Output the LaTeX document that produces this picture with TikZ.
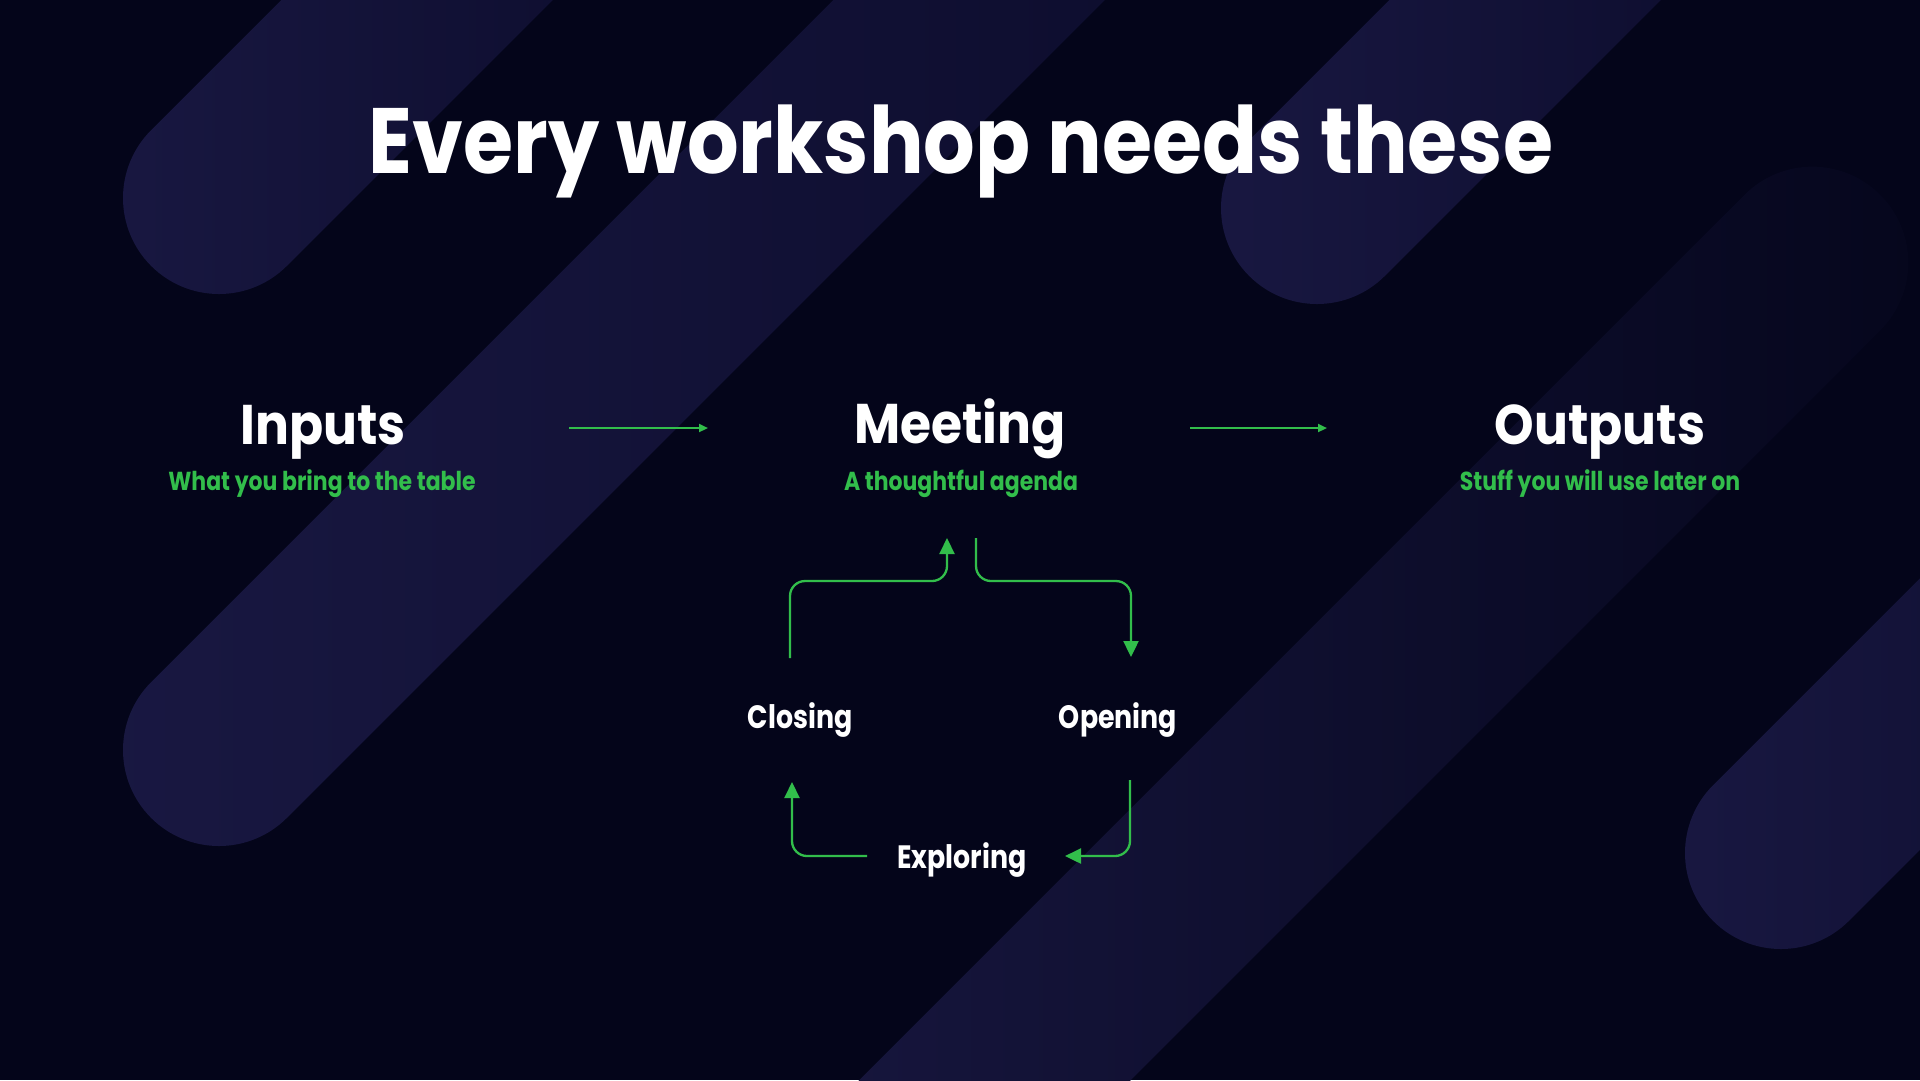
\documentclass[tikz,border=0pt]{standalone}
\usepackage{fontspec}
\usepackage{graphicx}
\setmainfont{Poppins}
\usetikzlibrary{arrows.meta}
\definecolor{bgcol}{RGB}{4,5,26}
\definecolor{stripelight}{RGB}{25,24,66}
\definecolor{stripedark}{RGB}{12,12,44}
\definecolor{stripefaint}{RGB}{5,6,28}
\definecolor{grn}{RGB}{50,190,75}
\newcommand\mystripe[4][stripedark]{%
  \begin{scope}[shift={(#2,#3)},rotate=45]
    \shade[left color=stripelight,right color=#1,rounded corners=9.6mm] (-96,-96) rectangle (#4,96);
  \end{scope}}
\newcommand\sx[2]{\scalebox{#1}[1]{#2}}
\begin{document}
\begin{tikzpicture}[x=0.1mm,y=-0.1mm,
  lbl/.style={inner sep=0pt, anchor=base, text=white, font=\bfseries},
  title/.style={lbl, font=\bfseries\fontsize{26.4pt}{30pt}\selectfont},
  big/.style={lbl, font=\bfseries\fontsize{15.9pt}{18pt}\selectfont},
  sub/.style={lbl, text=grn, font=\bfseries\fontsize{7.4pt}{9pt}\selectfont},
  phase/.style={lbl, font=\bfseries\fontsize{9.2pt}{11pt}\selectfont},
  flow/.style={draw=grn, line width=0.2mm, -{Triangle[length=0.9mm,width=0.8mm]}},
  cyc/.style={draw=grn, line width=0.23mm, rounded corners=1.5mm, -{Triangle[length=1.6mm,width=1.5mm]}}]
\useasboundingbox (0,0) rectangle (1920,1080);
\fill[bgcol] (0,0) rectangle (1920,1080);
\begin{scope}
  \clip (0,0) rectangle (1920,1080);
  \mystripe{219}{198}{600}
  \mystripe{219}{750}{1400}
  \mystripe{1317}{208}{600}
  \mystripe[stripefaint]{780}{1295}{1556}
  \mystripe{1781}{853}{600}
\end{scope}

\node[title] (ttl) at (961,173) {\sx{0.875}{Every workshop needs these}};

\node[big] (inputs) at (323,444) {\sx{0.9}{Inputs}};
\node[big] (meeting) at (960,443) {\sx{0.9}{Meeting}};
\node[big] (outputs) at (1600,444) {\sx{0.9}{Outputs}};
\node[sub] (insub) at (322,490) {\sx{0.845}{What you bring to the table}};
\node[sub] (meetsub) at (961,490) {\sx{0.845}{A thoughtful agenda}};
\node[sub] (outsub) at (1600,490) {\sx{0.845}{Stuff you will use later on}};

\node[phase] (closing) at (800,728) {\sx{0.83}{Closing}};
\node[phase] (opening) at (1118,728) {\sx{0.83}{Opening}};
\node[phase] (exploring) at (962,868) {\sx{0.83}{Exploring}};

\coordinate (a1s) at (569,428);
\coordinate (a1e) at (708,428);
\coordinate (a2s) at (1190,428);
\coordinate (a2e) at (1327,428);
\draw[flow] (a1s) -- (a1e);
\draw[flow] (a2s) -- (a2e);

\coordinate (clout) at (790,658);
\coordinate (mtin) at (947,538);
\coordinate (mtout) at (976,538);
\coordinate (opin) at (1131,657);
\coordinate (opout) at (1130,780);
\coordinate (exin) at (1065,856);
\coordinate (exout) at (867,856);
\coordinate (clin) at (792,782);

\draw[cyc] (clout) -- (790,581) -- (947,581) -- (mtin);
\draw[cyc] (mtout) -- (976,581) -- (1131,581) -- (opin);
\draw[cyc] (opout) -- (1130,856) -- (exin);
\draw[cyc] (exout) -- (792,856) -- (clin);
\end{tikzpicture}
\end{document}
